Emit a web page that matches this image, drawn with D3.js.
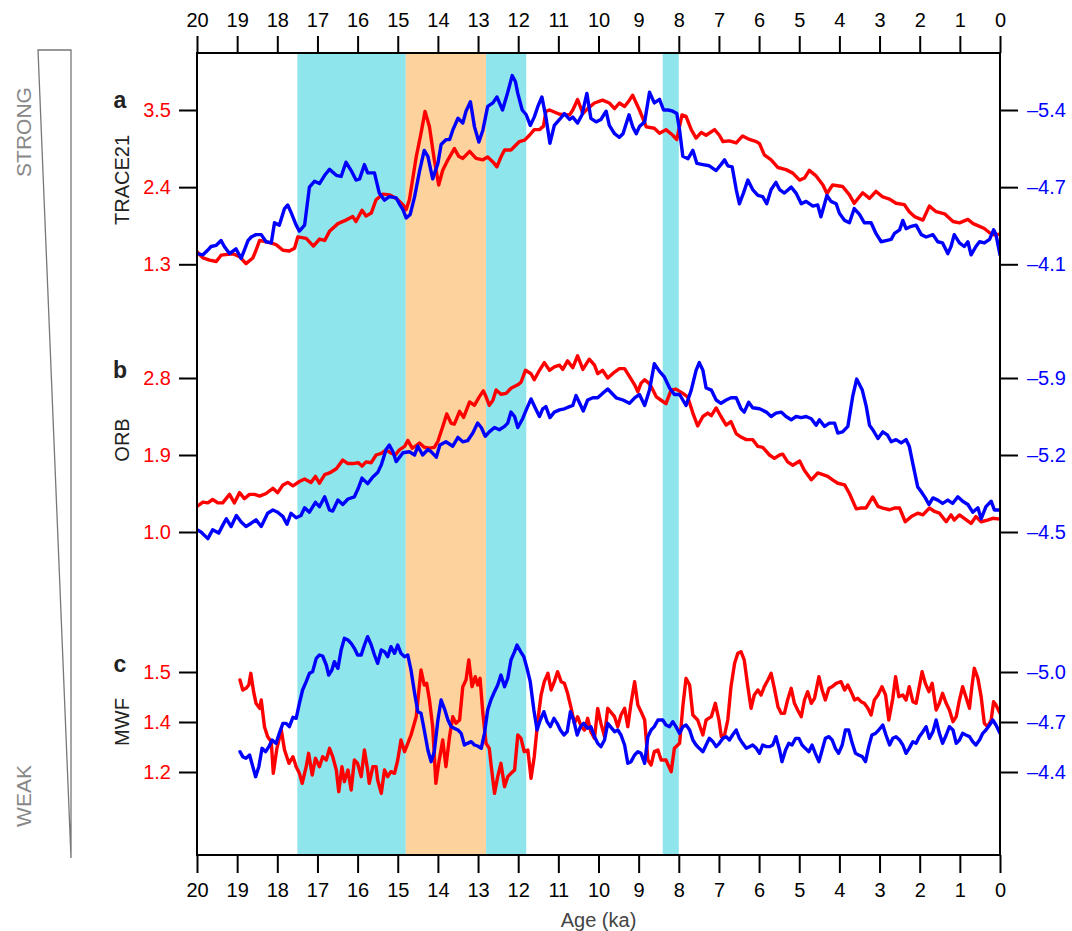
<!DOCTYPE html>
<html>
<head>
<meta charset="utf-8">
<script src="https://cdn.jsdelivr.net/npm/d3@7"></script>
<style>
  body { margin: 0; background: #fff; }
  text { font-family: "Liberation Sans", Arial, Helvetica, sans-serif; }
</style>
</head>
<body>
<div id="paper"></div>
<script>

// age axis (ka) and shaded intervals.

const ageTicks = [20, 19, 18, 17, 16, 15, 14, 13, 12, 11, 10, 9, 8, 7, 6, 5, 4, 3, 2, 1, 0]
const bandStart = [17.5, 14.8, 12.8, 8.4]
const bandEnd = [14.8, 12.8, 11.8, 8.0]
const bandKind = ["cold", "warm", "cold", "cold"]

// panel names and their axis ticks (left = red, right = blue).

const panelLetters = ["a", "b", "c"]
const panelNames = ["TRACE21", "ORB", "MWF"]

const traceRedTicks = [1.3, 2.4, 3.5]
const traceRedLabels = ["1.3", "2.4", "3.5"]
const traceBlueTicks = [-4.1, -4.75, -5.4]
const traceBlueLabels = ["\u20134.1", "\u20134.7", "\u20135.4"]

const orbRedTicks = [1.0, 1.9, 2.8]
const orbRedLabels = ["1.0", "1.9", "2.8"]
const orbBlueTicks = [-4.5, -5.2, -5.9]
const orbBlueLabels = ["\u20134.5", "\u20135.2", "\u20135.9"]

const mwfRedTicks = [1.2, 1.35, 1.5]
const mwfRedLabels = ["1.2", "1.4", "1.5"]
const mwfBlueTicks = [-4.4, -4.7, -5.0]
const mwfBlueLabels = ["\u20134.4", "\u20134.7", "\u20135.0"]

// series: [age ka, value].

const traceRed = [[20.00,1.48],[19.85,1.39],[19.69,1.36],[19.52,1.34],[19.40,1.43],[19.11,1.45],[18.94,1.41],[18.78,1.31],[18.61,1.39],[18.53,1.50],[18.44,1.64],[18.19,1.61],[18.03,1.58],[17.86,1.50],[17.70,1.49],[17.57,1.53],[17.49,1.69],[17.28,1.67],[17.10,1.56],[16.95,1.66],[16.82,1.64],[16.70,1.77],[16.49,1.88],[16.29,1.93],[16.12,1.98],[16.04,1.91],[15.89,2.07],[15.79,1.99],[15.66,2.03],[15.54,2.22],[15.37,2.30],[15.21,2.29],[15.04,2.24],[14.87,2.15],[14.79,2.08],[14.71,2.22],[14.54,2.83],[14.42,3.17],[14.32,3.48],[14.21,3.26],[14.09,2.79],[13.98,2.43],[13.88,2.64],[13.75,2.79],[13.59,2.95],[13.48,2.84],[13.38,2.81],[13.21,2.91],[13.05,2.81],[12.88,2.79],[12.76,2.83],[12.63,2.76],[12.53,2.69],[12.43,2.83],[12.34,2.93],[12.18,2.93],[11.97,3.05],[11.84,3.07],[11.72,3.14],[11.60,3.22],[11.47,3.22],[11.37,3.27],[11.31,3.48],[11.22,3.50],[10.97,3.44],[10.72,3.43],[10.64,3.50],[10.52,3.65],[10.39,3.45],[10.27,3.52],[10.10,3.60],[9.90,3.64],[9.73,3.60],
  [9.60,3.52],[9.48,3.60],[9.35,3.55],[9.23,3.64],[9.15,3.71],[8.98,3.50],[8.81,3.26],[8.61,3.24],[8.48,3.17],[8.32,3.22],[8.15,3.14],[8.05,3.08],[7.92,3.43],[7.82,3.41],[7.69,3.22],[7.57,3.10],[7.44,3.18],[7.32,3.14],[7.11,3.22],[6.99,3.14],[6.90,3.05],[6.74,3.06],[6.57,3.03],[6.41,3.13],[6.24,3.08],[6.07,3.05],[5.99,3.02],[5.87,2.86],[5.70,2.79],[5.53,2.68],[5.33,2.65],[5.16,2.60],[4.99,2.50],[4.87,2.53],[4.75,2.64],[4.58,2.56],[4.41,2.43],[4.31,2.31],[4.17,2.43],[3.92,2.41],[3.75,2.29],[3.63,2.17],[3.42,2.32],[3.25,2.24],[3.09,2.34],[2.92,2.26],[2.75,2.23],[2.59,2.17],[2.38,2.15],[2.26,2.05],[2.13,1.98],[1.92,1.93],[1.76,2.13],[1.59,2.05],[1.38,2.02],[1.17,1.91],[1.01,1.89],[0.80,1.94],[0.67,1.88],[0.51,1.84],[0.39,1.81],[0.26,1.75],[0.14,1.72],[0.00,1.73]]

const traceBlue = [[20.00,-4.19],[19.85,-4.18],[19.73,-4.22],[19.65,-4.25],[19.52,-4.26],[19.40,-4.30],[19.32,-4.25],[19.19,-4.19],[19.03,-4.23],[18.90,-4.15],[18.82,-4.22],[18.73,-4.30],[18.65,-4.33],[18.53,-4.35],[18.40,-4.35],[18.28,-4.29],[18.15,-4.28],[18.07,-4.45],[17.95,-4.43],[17.82,-4.57],[17.74,-4.60],[17.66,-4.54],[17.53,-4.43],[17.45,-4.38],[17.32,-4.43],[17.20,-4.75],[17.07,-4.80],[16.95,-4.78],[16.82,-4.85],[16.70,-4.90],[16.53,-4.85],[16.41,-4.84],[16.29,-4.96],[16.16,-4.89],[16.04,-4.81],[15.95,-4.82],[15.83,-4.94],[15.75,-4.87],[15.58,-4.87],[15.46,-4.70],[15.33,-4.64],[15.21,-4.67],[15.04,-4.66],[14.96,-4.61],[14.87,-4.56],[14.79,-4.49],[14.69,-4.52],[14.58,-4.67],[14.46,-4.88],[14.34,-5.06],[14.25,-5.01],[14.13,-4.82],[14.00,-4.95],[13.92,-5.11],[13.80,-5.15],[13.71,-5.15],[13.63,-5.23],[13.50,-5.33],[13.38,-5.29],[13.30,-5.39],[13.19,-5.47],[13.09,-5.26],[12.98,-5.13],[12.88,-5.23],[12.76,-5.43],[12.63,-5.46],[12.53,-5.51],[12.39,-5.40],[12.26,-5.55],[12.15,-5.69],[12.07,-5.64],[12.01,-5.54],[11.90,-5.40],[11.80,-5.36],[11.70,-5.27],[11.60,-5.34],[11.51,-5.43],[11.41,-5.51],[11.31,-5.34],[11.21,-5.12],[11.10,-5.27],[10.97,-5.32],[10.85,-5.37],[10.72,-5.32],[10.64,-5.34],[10.52,-5.29],[10.41,-5.36],[10.29,-5.54],[10.19,-5.33],[10.06,-5.30],[9.94,-5.32],[9.81,-5.39],[9.73,-5.27],
  [9.60,-5.20],[9.48,-5.17],[9.39,-5.20],[9.24,-5.36],[9.15,-5.26],[9.06,-5.20],[8.98,-5.26],[8.85,-5.30],[8.73,-5.55],[8.61,-5.46],[8.48,-5.49],[8.38,-5.40],[8.27,-5.40],[8.15,-5.39],[8.05,-5.37],[7.98,-5.23],[7.90,-5.01],[7.77,-4.99],[7.65,-5.06],[7.55,-4.95],[7.40,-4.94],[7.24,-4.93],[7.07,-4.89],[6.95,-4.94],[6.86,-4.98],[6.78,-4.93],[6.67,-4.92],[6.57,-4.73],[6.49,-4.61],[6.39,-4.70],[6.28,-4.81],[6.16,-4.73],[6.03,-4.68],[5.91,-4.67],[5.81,-4.61],[5.70,-4.73],[5.58,-4.79],[5.49,-4.73],[5.37,-4.70],[5.20,-4.75],[5.08,-4.70],[4.95,-4.61],[4.83,-4.63],[4.66,-4.59],[4.54,-4.60],[4.46,-4.50],[4.31,-4.68],[4.21,-4.63],[4.08,-4.61],[4.00,-4.53],[3.87,-4.47],[3.75,-4.45],[3.63,-4.57],[3.50,-4.52],[3.38,-4.45],[3.21,-4.45],[3.09,-4.36],[2.96,-4.29],[2.84,-4.30],[2.71,-4.31],[2.63,-4.36],[2.50,-4.39],[2.42,-4.47],[2.34,-4.40],[2.21,-4.42],[2.09,-4.43],[1.96,-4.35],[1.84,-4.33],[1.67,-4.35],[1.55,-4.29],[1.43,-4.28],[1.30,-4.19],[1.22,-4.25],[1.14,-4.35],[1.01,-4.28],[0.89,-4.25],[0.80,-4.29],[0.72,-4.18],[0.60,-4.25],[0.51,-4.29],[0.39,-4.28],[0.26,-4.31],[0.16,-4.39],[0.10,-4.35],[0.00,-4.18]]

const orbRed = [[20.00,1.30],[19.85,1.35],[19.73,1.34],[19.61,1.38],[19.48,1.34],[19.36,1.34],[19.19,1.44],[19.07,1.34],[18.94,1.46],[18.82,1.39],[18.69,1.44],[18.57,1.44],[18.44,1.42],[18.28,1.45],[18.11,1.51],[17.99,1.46],[17.86,1.55],[17.74,1.58],[17.61,1.54],[17.45,1.59],[17.32,1.62],[17.16,1.58],[17.05,1.65],[16.95,1.57],[16.82,1.67],[16.70,1.69],[16.53,1.74],[16.37,1.84],[16.24,1.80],[16.12,1.80],[15.98,1.81],[15.89,1.77],[15.79,1.82],[15.66,1.81],[15.54,1.90],[15.41,1.92],[15.29,1.96],[15.16,1.92],[15.06,1.90],[14.96,1.96],[14.83,2.00],[14.75,2.07],[14.64,1.98],[14.54,2.01],[14.46,2.04],[14.34,1.99],[14.21,1.98],[14.09,1.99],[14.00,2.06],[13.88,2.23],[13.78,2.38],[13.67,2.27],[13.59,2.26],[13.46,2.41],[13.36,2.34],[13.21,2.52],[13.09,2.48],[12.97,2.58],[12.87,2.65],[12.80,2.58],[12.72,2.48],[12.63,2.54],[12.55,2.66],[12.43,2.61],[12.30,2.62],[12.18,2.68],[12.01,2.72],[11.93,2.75],[11.82,2.89],[11.68,2.85],[11.60,2.78],[11.47,2.89],[11.35,2.98],[11.22,2.89],[11.10,2.93],[10.97,2.95],[10.89,2.90],[10.77,3.00],[10.64,2.92],[10.52,3.06],[10.39,2.90],[10.23,3.02],[10.10,2.95],[10.02,2.85],[9.90,2.89],[9.77,2.80],
  [9.60,2.87],[9.48,2.91],[9.35,2.91],[9.23,2.82],[9.10,2.72],[9.02,2.64],[8.94,2.74],[8.85,2.78],[8.75,2.74],[8.69,2.70],[8.56,2.58],[8.44,2.54],[8.32,2.50],[8.19,2.66],[8.07,2.67],[7.90,2.62],[7.78,2.58],[7.65,2.39],[7.53,2.24],[7.40,2.35],[7.28,2.39],[7.19,2.36],[7.07,2.45],[6.95,2.35],[6.82,2.25],[6.70,2.29],[6.57,2.15],[6.45,2.11],[6.32,2.08],[6.16,2.08],[6.03,2.00],[5.91,1.99],[5.74,1.90],[5.62,1.86],[5.49,1.90],[5.41,1.91],[5.29,1.82],[5.16,1.78],[4.99,1.83],[4.87,1.72],[4.70,1.61],[4.54,1.69],[4.41,1.67],[4.29,1.65],[4.17,1.61],[4.04,1.57],[3.87,1.55],[3.75,1.45],[3.58,1.27],[3.46,1.28],[3.34,1.28],[3.17,1.41],[3.04,1.30],[2.92,1.28],[2.75,1.26],[2.63,1.28],[2.50,1.28],[2.36,1.12],[2.21,1.18],[2.05,1.22],[1.92,1.20],[1.76,1.28],[1.63,1.24],[1.51,1.22],[1.34,1.12],[1.22,1.20],[1.14,1.14],[1.01,1.20],[0.89,1.16],[0.72,1.10],[0.60,1.18],[0.47,1.12],[0.31,1.14],[0.18,1.16],[0.00,1.15]]

const orbBlue = [[20.00,-4.52],[19.90,-4.50],[19.73,-4.44],[19.61,-4.52],[19.46,-4.49],[19.36,-4.56],[19.27,-4.62],[19.15,-4.55],[19.02,-4.65],[18.90,-4.59],[18.78,-4.55],[18.65,-4.58],[18.53,-4.61],[18.40,-4.55],[18.24,-4.67],[18.11,-4.70],[17.99,-4.68],[17.86,-4.64],[17.76,-4.57],[17.66,-4.67],[17.53,-4.63],[17.41,-4.65],[17.32,-4.72],[17.20,-4.68],[17.05,-4.77],[16.95,-4.73],[16.82,-4.82],[16.70,-4.70],[16.62,-4.69],[16.49,-4.79],[16.37,-4.75],[16.24,-4.80],[16.08,-4.82],[15.98,-4.90],[15.89,-4.99],[15.75,-4.94],[15.62,-5.00],[15.50,-5.04],[15.41,-5.11],[15.29,-5.25],[15.21,-5.29],[15.12,-5.23],[15.04,-5.14],[14.87,-5.22],[14.71,-5.23],[14.58,-5.20],[14.50,-5.28],[14.38,-5.20],[14.25,-5.25],[14.17,-5.23],[14.04,-5.18],[13.95,-5.29],[13.80,-5.32],[13.63,-5.28],[13.50,-5.36],[13.38,-5.32],[13.26,-5.33],[13.13,-5.40],[13.01,-5.49],[12.92,-5.45],[12.82,-5.37],[12.72,-5.41],[12.59,-5.45],[12.47,-5.43],[12.34,-5.46],[12.26,-5.49],[12.18,-5.59],[12.09,-5.55],[12.01,-5.45],[11.89,-5.53],[11.80,-5.61],[11.68,-5.71],[11.55,-5.61],[11.47,-5.55],[11.39,-5.62],[11.31,-5.64],[11.21,-5.54],[11.10,-5.59],[10.97,-5.61],[10.85,-5.62],[10.72,-5.64],[10.64,-5.65],[10.56,-5.74],[10.48,-5.68],[10.38,-5.60],[10.27,-5.70],[10.14,-5.72],[10.02,-5.72],[9.90,-5.76],[9.77,-5.80],
  [9.56,-5.72],[9.39,-5.70],[9.23,-5.67],[9.10,-5.72],[8.98,-5.75],[8.85,-5.65],[8.73,-5.79],[8.61,-6.03],[8.48,-5.96],[8.36,-5.91],[8.23,-5.81],[8.11,-5.75],[7.98,-5.75],[7.82,-5.65],[7.69,-5.79],[7.57,-5.97],[7.49,-6.04],[7.40,-5.97],[7.32,-5.81],[7.19,-5.79],[7.07,-5.70],[6.95,-5.67],[6.82,-5.70],[6.70,-5.72],[6.57,-5.72],[6.45,-5.62],[6.37,-5.59],[6.26,-5.68],[6.16,-5.63],[5.99,-5.62],[5.82,-5.59],[5.70,-5.55],[5.58,-5.58],[5.45,-5.59],[5.33,-5.55],[5.20,-5.52],[5.08,-5.55],[4.95,-5.54],[4.83,-5.55],[4.70,-5.53],[4.58,-5.47],[4.50,-5.52],[4.37,-5.46],[4.25,-5.49],[4.12,-5.49],[4.04,-5.40],[3.92,-5.41],[3.79,-5.46],[3.67,-5.73],[3.57,-5.89],[3.43,-5.79],[3.33,-5.64],[3.25,-5.47],[3.17,-5.43],[3.04,-5.35],[2.92,-5.41],[2.80,-5.38],[2.71,-5.32],[2.59,-5.34],[2.46,-5.31],[2.34,-5.34],[2.26,-5.28],[2.17,-5.12],[2.05,-4.91],[1.97,-4.87],[1.86,-4.81],[1.77,-4.75],[1.67,-4.81],[1.55,-4.79],[1.43,-4.76],[1.30,-4.79],[1.18,-4.76],[1.05,-4.82],[0.93,-4.78],[0.80,-4.75],[0.68,-4.68],[0.55,-4.72],[0.47,-4.62],[0.35,-4.73],[0.22,-4.78],[0.14,-4.70],[0.00,-4.70]]

const mwfRed = [[18.93,1.476],[18.86,1.446],[18.78,1.451],[18.71,1.461],[18.66,1.496],[18.59,1.441],[18.53,1.406],[18.44,1.391],[18.40,1.416],[18.32,1.336],[18.24,1.306],[18.15,1.291],[18.10,1.196],[18.01,1.271],[17.90,1.326],[17.82,1.266],[17.71,1.226],[17.61,1.246],[17.53,1.216],[17.45,1.196],[17.38,1.166],[17.28,1.216],[17.22,1.256],[17.13,1.191],[17.05,1.241],[16.95,1.216],[16.87,1.246],[16.78,1.236],[16.70,1.271],[16.62,1.246],[16.53,1.206],[16.47,1.141],[16.39,1.216],[16.33,1.171],[16.24,1.206],[16.16,1.146],[16.08,1.236],[16.00,1.226],[15.91,1.186],[15.83,1.266],[15.75,1.206],[15.71,1.166],[15.62,1.216],[15.54,1.216],[15.50,1.176],[15.41,1.136],[15.33,1.206],[15.25,1.186],[15.17,1.201],[15.08,1.196],[15.00,1.236],[14.92,1.296],[14.83,1.261],[14.75,1.286],[14.67,1.311],[14.54,1.366],[14.42,1.506],[14.34,1.461],[14.28,1.466],[14.21,1.416],[14.13,1.336],[14.05,1.166],[13.98,1.226],[13.88,1.296],[13.80,1.216],[13.71,1.306],[13.63,1.366],[13.55,1.346],[13.46,1.356],[13.38,1.456],[13.30,1.476],[13.23,1.536],[13.15,1.456],[13.07,1.486],[13.01,1.461],[12.95,1.481],[12.88,1.376],[12.80,1.286],[12.72,1.271],[12.68,1.226],[12.59,1.136],[12.51,1.186],[12.43,1.226],[12.34,1.156],[12.26,1.186],[12.18,1.196],[12.09,1.206],[12.01,1.311],[11.93,1.301],[11.85,1.261],[11.76,1.266],[11.68,1.181],[11.60,1.246],[11.51,1.356],[11.43,1.431],[11.35,1.471],[11.26,1.496],[11.18,1.446],[11.10,1.471],[11.02,1.501],[10.93,1.471],[10.85,1.466],[10.77,1.436],[10.68,1.391],[10.60,1.346],[10.52,1.366],[10.43,1.336],[10.35,1.326],[10.27,1.361],[10.19,1.321],[10.10,1.301],[10.02,1.391],[9.94,1.346],[9.85,1.306],[9.77,1.391],
  [9.60,1.366],[9.52,1.336],[9.44,1.371],[9.35,1.391],[9.27,1.336],[9.19,1.406],[9.10,1.471],[9.02,1.401],[8.94,1.381],[8.85,1.356],[8.77,1.236],[8.69,1.221],[8.61,1.261],[8.52,1.266],[8.44,1.236],[8.32,1.236],[8.19,1.201],[8.11,1.271],[7.98,1.286],[7.90,1.396],[7.82,1.481],[7.73,1.461],[7.65,1.371],[7.53,1.356],[7.40,1.311],[7.32,1.356],[7.19,1.366],[7.09,1.406],[7.00,1.356],[6.94,1.306],[6.86,1.311],[6.78,1.356],[6.70,1.456],[6.61,1.526],[6.53,1.556],[6.45,1.561],[6.37,1.536],[6.28,1.456],[6.20,1.391],[6.12,1.431],[6.03,1.446],[5.95,1.431],[5.87,1.456],[5.78,1.476],[5.70,1.496],[5.62,1.451],[5.53,1.396],[5.45,1.376],[5.37,1.376],[5.29,1.416],[5.20,1.451],[5.12,1.406],[5.04,1.386],[4.95,1.366],[4.87,1.416],[4.79,1.441],[4.70,1.406],[4.62,1.421],[4.51,1.486],[4.43,1.446],[4.35,1.416],[4.26,1.451],[4.18,1.456],[4.08,1.466],[3.96,1.471],[3.87,1.446],[3.79,1.461],[3.71,1.441],[3.62,1.416],[3.54,1.421],[3.46,1.411],[3.38,1.406],[3.29,1.391],[3.21,1.371],[3.13,1.416],[3.04,1.431],[2.94,1.456],[2.85,1.431],[2.77,1.356],[2.67,1.421],[2.60,1.486],[2.52,1.426],[2.42,1.431],[2.34,1.416],[2.26,1.456],[2.17,1.411],[2.09,1.406],[2.01,1.456],[1.94,1.501],[1.86,1.466],[1.77,1.441],[1.69,1.466],[1.59,1.386],[1.51,1.406],[1.43,1.436],[1.34,1.406],[1.26,1.386],[1.17,1.351],[1.09,1.366],[1.01,1.416],[0.93,1.456],[0.85,1.426],[0.76,1.391],[0.70,1.456],[0.64,1.511],[0.55,1.481],[0.47,1.426],[0.39,1.346],[0.31,1.336],[0.22,1.356],[0.16,1.411],[0.10,1.401],[0.00,1.376]]

const mwfBlue = [[18.93,-4.522],[18.86,-4.492],[18.78,-4.482],[18.69,-4.502],[18.61,-4.432],[18.54,-4.372],[18.46,-4.432],[18.38,-4.542],[18.29,-4.522],[18.21,-4.552],[18.13,-4.592],[18.03,-4.572],[17.95,-4.632],[17.86,-4.692],[17.78,-4.692],[17.70,-4.672],[17.61,-4.728],[17.53,-4.722],[17.45,-4.812],[17.37,-4.892],[17.28,-4.942],[17.20,-4.992],[17.12,-5.002],[17.03,-5.082],[16.95,-5.102],[16.87,-5.096],[16.78,-5.042],[16.72,-4.982],[16.64,-5.012],[16.58,-5.062],[16.49,-5.022],[16.41,-5.132],[16.33,-5.202],[16.24,-5.192],[16.16,-5.172],[16.08,-5.142],[16.00,-5.102],[15.91,-5.102],[15.83,-5.162],[15.75,-5.212],[15.66,-5.162],[15.58,-5.102],[15.50,-5.052],[15.41,-5.132],[15.33,-5.122],[15.25,-5.092],[15.17,-5.152],[15.08,-5.112],[15.00,-5.162],[14.92,-5.112],[14.83,-5.092],[14.75,-5.102],[14.67,-5.012],[14.58,-4.872],[14.50,-4.762],[14.42,-4.752],[14.34,-4.652],[14.25,-4.532],[14.17,-4.462],[14.09,-4.522],[14.00,-4.712],[13.92,-4.832],[13.84,-4.782],[13.75,-4.712],[13.67,-4.672],[13.59,-4.662],[13.50,-4.652],[13.42,-4.632],[13.34,-4.562],[13.26,-4.572],[13.17,-4.582],[13.09,-4.562],[13.01,-4.556],[12.92,-4.542],[12.84,-4.632],[12.76,-4.772],[12.68,-4.832],[12.59,-4.882],[12.51,-4.922],[12.43,-4.982],[12.34,-4.912],[12.26,-4.962],[12.18,-5.072],[12.09,-5.122],[12.03,-5.162],[11.94,-5.122],[11.86,-5.092],[11.78,-5.022],[11.70,-4.942],[11.61,-4.772],[11.53,-4.652],[11.45,-4.712],[11.36,-4.762],[11.28,-4.702],[11.20,-4.672],[11.11,-4.722],[11.03,-4.692],[10.95,-4.652],[10.86,-4.622],[10.78,-4.642],[10.70,-4.762],[10.62,-4.712],[10.53,-4.622],[10.45,-4.672],[10.37,-4.692],[10.27,-4.662],[10.19,-4.672],[10.10,-4.612],[10.02,-4.572],[9.94,-4.552],[9.85,-4.592],[9.77,-4.692],
  [9.60,-4.642],[9.52,-4.652],[9.44,-4.622],[9.35,-4.562],[9.27,-4.452],[9.19,-4.462],[9.10,-4.502],[9.02,-4.522],[8.94,-4.512],[8.85,-4.452],[8.77,-4.612],[8.69,-4.652],[8.61,-4.672],[8.52,-4.712],[8.40,-4.712],[8.32,-4.682],[8.23,-4.672],[8.15,-4.702],[8.07,-4.672],[7.98,-4.632],[7.90,-4.672],[7.82,-4.682],[7.73,-4.652],[7.65,-4.592],[7.57,-4.562],[7.49,-4.542],[7.40,-4.522],[7.32,-4.562],[7.24,-4.602],[7.15,-4.582],[7.07,-4.552],[6.99,-4.572],[6.90,-4.602],[6.82,-4.612],[6.74,-4.592],[6.66,-4.622],[6.57,-4.652],[6.49,-4.602],[6.41,-4.572],[6.32,-4.542],[6.24,-4.552],[6.16,-4.562],[6.07,-4.542],[5.99,-4.512],[5.91,-4.562],[5.82,-4.552],[5.74,-4.552],[5.66,-4.562],[5.58,-4.612],[5.49,-4.532],[5.43,-4.462],[5.34,-4.532],[5.26,-4.572],[5.18,-4.562],[5.09,-4.602],[5.01,-4.602],[4.93,-4.562],[4.85,-4.542],[4.76,-4.522],[4.68,-4.562],[4.60,-4.512],[4.51,-4.462],[4.43,-4.532],[4.35,-4.602],[4.26,-4.612],[4.18,-4.592],[4.10,-4.542],[4.02,-4.512],[3.93,-4.562],[3.85,-4.652],[3.77,-4.652],[3.68,-4.572],[3.60,-4.512],[3.52,-4.502],[3.43,-4.492],[3.35,-4.462],[3.27,-4.552],[3.19,-4.622],[3.10,-4.632],[3.02,-4.652],[2.92,-4.682],[2.84,-4.622],[2.75,-4.562],[2.67,-4.602],[2.59,-4.612],[2.50,-4.592],[2.42,-4.562],[2.34,-4.512],[2.26,-4.542],[2.17,-4.582],[2.09,-4.572],[2.01,-4.612],[1.92,-4.642],[1.84,-4.672],[1.76,-4.602],[1.67,-4.642],[1.59,-4.712],[1.51,-4.632],[1.43,-4.572],[1.34,-4.622],[1.26,-4.672],[1.17,-4.652],[1.09,-4.572],[1.01,-4.592],[0.93,-4.632],[0.85,-4.622],[0.76,-4.612],[0.68,-4.582],[0.60,-4.562],[0.51,-4.592],[0.43,-4.632],[0.35,-4.652],[0.26,-4.682],[0.18,-4.712],[0.10,-4.682],[0.00,-4.632]]

// layout.

const W = 1072, H = 931
const plotLeft = 197, plotRight = 1000, plotTop = 53, plotBottom = 855
const RED = "#ff0000", BLUE = "#0000ff"
const bandColor = { cold: "#8ee5ec", warm: "#fdd29d" }

// vertical extent of each panel: pixel positions of its first and last tick.

const panelPix = [[264.3, 110], [532, 378], [772, 672]]

const panels = [
    { red: traceRed, blue: traceBlue, rT: traceRedTicks, rL: traceRedLabels, bT: traceBlueTicks, bL: traceBlueLabels, letterY: 100, nameY: 180 },
    { red: orbRed, blue: orbBlue, rT: orbRedTicks, rL: orbRedLabels, bT: orbBlueTicks, bL: orbBlueLabels, letterY: 370, nameY: 440 },
    { red: mwfRed, blue: mwfBlue, rT: mwfRedTicks, rL: mwfRedLabels, bT: mwfBlueTicks, bL: mwfBlueLabels, letterY: 664, nameY: 722 }
]

const svg = d3.select("#paper")
    .append("svg")
    .attr("width", W)
    .attr("height", H)

const x = d3.scaleLinear().domain([20, 0]).range([plotLeft, plotRight])

// shaded intervals.

svg.selectAll(".band")
    .data(bandStart.map((s, i) => ({ s: s, e: bandEnd[i], k: bandKind[i] })))
    .join("rect")
    .attr("class", "band")
    .attr("x", d => x(d.s))
    .attr("width", d => x(d.e) - x(d.s))
    .attr("y", plotTop)
    .attr("height", plotBottom - plotTop)
    .attr("fill", d => bandColor[d.k])

// clip for the curves.

svg.append("clipPath").attr("id", "clip")
    .append("rect")
    .attr("x", plotLeft).attr("y", plotTop)
    .attr("width", plotRight - plotLeft).attr("height", plotBottom - plotTop)

function styleAxis(g, color) {
    g.select(".domain").remove()
    g.selectAll(".tick line").attr("stroke", "#000").attr("stroke-width", 2)
    g.selectAll(".tick text")
        .attr("fill", color)
        .attr("font-size", 20)
        .attr("font-family", "'Liberation Sans', Arial, sans-serif")
}

panels.forEach((p, i) => {
    const pix = panelPix[i]
    const yR = d3.scaleLinear().domain([p.rT[0], p.rT[p.rT.length - 1]]).range(pix)
    const yB = d3.scaleLinear().domain([p.bT[0], p.bT[p.bT.length - 1]]).range(pix)

    const lineR = d3.line().x(d => x(d[0])).y(d => yR(d[1]))
    const lineB = d3.line().x(d => x(d[0])).y(d => yB(d[1]))

    const g = svg.append("g").attr("clip-path", "url(#clip)")
    g.append("path").datum(p.red)
        .attr("d", lineR)
        .attr("fill", "none").attr("stroke", RED).attr("stroke-width", 3.4)
        .attr("stroke-linejoin", "round").attr("stroke-linecap", "round")
    g.append("path").datum(p.blue)
        .attr("d", lineB)
        .attr("fill", "none").attr("stroke", BLUE).attr("stroke-width", 3.4)
        .attr("stroke-linejoin", "round").attr("stroke-linecap", "round")

    svg.append("g")
        .attr("transform", `translate(${plotLeft},0)`)
        .call(d3.axisLeft(yR).tickValues(p.rT).tickSize(18).tickPadding(8).tickFormat((d, k) => p.rL[k]))
        .call(g => styleAxis(g, RED))

    svg.append("g")
        .attr("transform", `translate(${plotRight},0)`)
        .call(d3.axisRight(yB).tickValues(p.bT).tickSize(18).tickPadding(9).tickFormat((d, k) => p.bL[k]))
        .call(g => styleAxis(g, BLUE))

    // panel letter and name.

    svg.append("text")
        .attr("x", 120).attr("y", p.letterY).attr("dy", "0.35em")
        .attr("text-anchor", "middle")
        .attr("font-size", 23).attr("font-weight", "bold").attr("fill", "#222")
        .text(panelLetters[i])

    svg.append("text")
        .attr("transform", `translate(122,${p.nameY}) rotate(-90)`)
        .attr("dy", "0.35em")
        .attr("text-anchor", "middle")
        .attr("font-size", 20).attr("fill", "#222")
        .text(panelNames[i])
})

// age axes, top and bottom.

svg.append("g")
    .attr("transform", `translate(0,${plotTop})`)
    .call(d3.axisTop(x).tickValues(ageTicks).tickSize(17).tickPadding(9).tickFormat(d3.format("d")))
    .call(g => styleAxis(g, "#000"))

svg.append("g")
    .attr("transform", `translate(0,${plotBottom})`)
    .call(d3.axisBottom(x).tickValues(ageTicks).tickSize(18).tickPadding(10).tickFormat(d3.format("d")))
    .call(g => styleAxis(g, "#000"))

svg.append("rect")
    .attr("x", plotLeft).attr("y", plotTop)
    .attr("width", plotRight - plotLeft).attr("height", plotBottom - plotTop)
    .attr("fill", "none").attr("stroke", "#000").attr("stroke-width", 2)

svg.append("text")
    .attr("x", (plotLeft + plotRight) / 2).attr("y", 920).attr("dy", "0.35em")
    .attr("text-anchor", "middle")
    .attr("font-size", 20).attr("fill", "#444")
    .text("Age (ka)")

// strength wedge on the left.

svg.append("path")
    .attr("d", "M38,50 L71,50 L71,858 Z")
    .attr("fill", "none").attr("stroke", "#777").attr("stroke-width", 1.3)

svg.append("text")
    .attr("transform", "translate(24,132) rotate(-90)")
    .attr("dy", "0.35em").attr("text-anchor", "middle")
    .attr("font-size", 21).attr("fill", "#888")
    .text("STRONG")

svg.append("text")
    .attr("transform", "translate(24,796) rotate(-90)")
    .attr("dy", "0.35em").attr("text-anchor", "middle")
    .attr("font-size", 21).attr("fill", "#888")
    .text("WEAK")

</script>
</body>
</html>
